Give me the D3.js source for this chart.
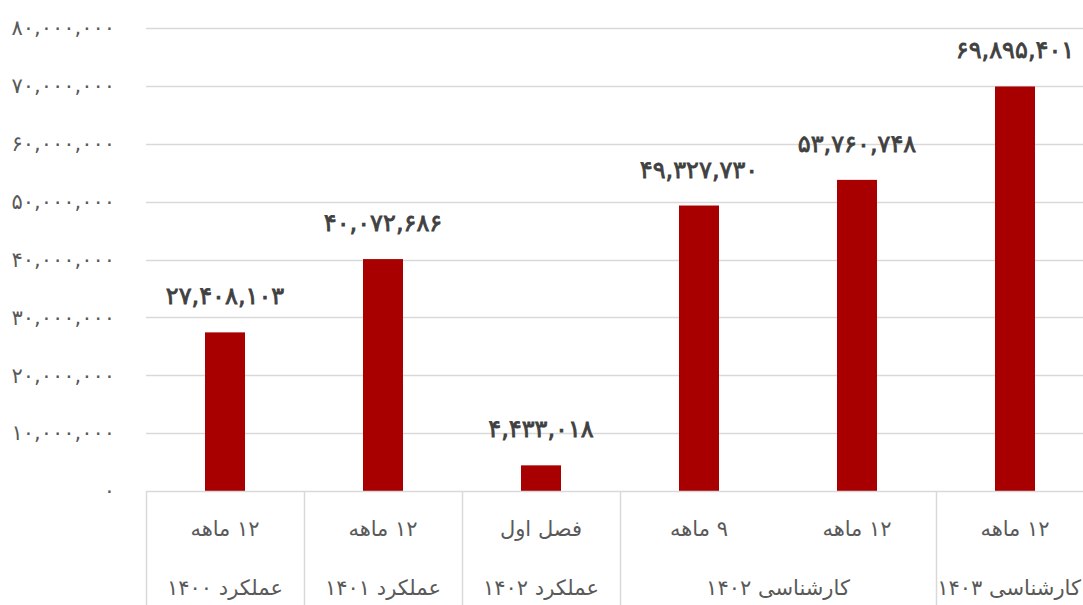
<!DOCTYPE html>
<html><head><meta charset="utf-8">
<script src="https://cdn.jsdelivr.net/npm/d3@7"></script>
<style>
html,body{margin:0;padding:0;background:#fff;overflow:hidden}
svg{display:block;font-family:"DejaVu Sans","Noto Sans",sans-serif}
</style></head><body>
<svg id="chart" width="1083" height="605"></svg>
<script>
const categories = ["۱۲ ماهه","۱۲ ماهه","فصل اول","۹ ماهه","۱۲ ماهه","۱۲ ماهه"];
const values = [27408103, 40072686, 4433018, 49327730, 53760748, 69895401];
const groups = ["عملکرد ۱۴۰۰","عملکرد ۱۴۰۱","عملکرد ۱۴۰۲","کارشناسی ۱۴۰۲","کارشناسی ۱۴۰۳"];
const groupSpans = [[0,0],[1,1],[2,2],[3,4],[5,5]];
const yTicks = [0,10000000,20000000,30000000,40000000,50000000,60000000,70000000,80000000];

(function(){
const fa = s => String(s).replace(/\d/g, d => "۰۱۲۳۴۵۶۷۸۹"[+d]);
const fmt = v => fa(d3.format(",")(v));

const W = 1083;
const svg = d3.select("#chart");
const mLeft = 146, catW = 158, mTop = 28, mBottom = 491;
const x = d3.scaleBand().domain(d3.range(categories.length)).range([mLeft, mLeft + catW*categories.length]).paddingInner(0).paddingOuter(0);
const y = d3.scaleLinear().domain([0, 80000000]).range([mBottom, mTop]);
const grid = "#d9d9d9";

svg.append("g").selectAll("line").data(yTicks.slice(1)).join("line")
  .attr("x1", mLeft).attr("x2", W).attr("y1", d => Math.round(y(d))+0.5).attr("y2", d => Math.round(y(d))+0.5)
  .attr("stroke", grid).attr("stroke-width", 1.3);

svg.append("g").selectAll("text").data(yTicks).join("text")
  .attr("x", 115).attr("y", d => y(d)).attr("dy", "0.35em")
  .attr("text-anchor", "end").attr("fill", "#595959").attr("font-size", 21)
  .attr("letter-spacing", 0.5)
  .text(d => fmt(d));

const bw = 40;
svg.append("g").selectAll("rect").data(values).join("rect")
  .attr("x", (d,i) => x(i) + x.bandwidth()/2 - bw/2).attr("width", bw)
  .attr("y", d => y(d)).attr("height", d => y(0) - y(d))
  .attr("fill", "#a80000");

svg.append("g").selectAll("text").data(values).join("text")
  .attr("x", (d,i) => x(i) + x.bandwidth()/2).attr("y", d => y(d) - 28)
  .attr("text-anchor", "middle").attr("fill", "#404040").attr("font-size", 24)
  .attr("stroke", "#404040").attr("stroke-width", 0.8)
  .text(d => fmt(d));

svg.append("line").attr("x1", mLeft).attr("x2", W).attr("y1", mBottom+0.5).attr("y2", mBottom+0.5).attr("stroke", grid).attr("stroke-width", 1.5);

const seps = [mLeft].concat(groupSpans.map(s => x(s[1]) + catW));
svg.append("g").selectAll("line").data(seps).join("line")
  .attr("x1", d => Math.round(d)+0.5).attr("x2", d => Math.round(d)+0.5).attr("y1", mBottom).attr("y2", 605)
  .attr("stroke", grid).attr("stroke-width", 1.5);

svg.append("g").selectAll("text").data(categories).join("text")
  .attr("x", (d,i) => x(i) + x.bandwidth()/2).attr("y", 529).attr("dy", "0.35em")
  .attr("text-anchor", "middle").attr("direction", "rtl").attr("fill", "#595959").attr("font-size", 21)
  .text(d => d);

const gl = svg.append("g").selectAll("text").data(groups).join("text")
  .attr("x", (d,i) => (x(groupSpans[i][0]) + x(groupSpans[i][1]) + catW)/2).attr("y", 588).attr("dy", "0.35em")
  .attr("text-anchor", "middle").attr("fill", "#595959").attr("font-size", 21)
  .text(d => d);
// keep labels inside the picture: shift any that would run past the right edge
gl.each(function(){
  const b = this.getBBox();
  if (b.x + b.width > W - 2) d3.select(this).attr("x", +d3.select(this).attr("x") - (b.x + b.width - (W - 2)));
});
})();
</script>
</body></html>
